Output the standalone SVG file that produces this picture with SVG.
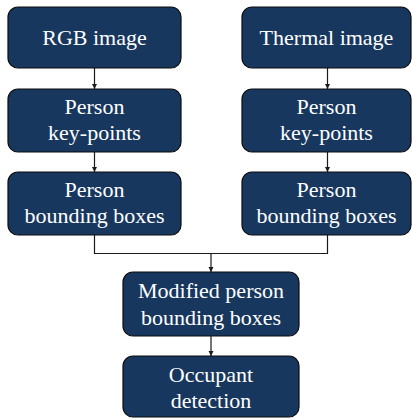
<svg xmlns="http://www.w3.org/2000/svg" width="412" height="420" viewBox="0 0 412 420">
<style>
.box{fill:#17375e;stroke:#0d0d0d;stroke-width:1.2}
.t{font-family:"Liberation Serif","Times New Roman",serif;font-size:22px;fill:#ffffff;text-anchor:middle}
.c{fill:none;stroke:#1a1a1a;stroke-width:1.2}
</style>
<defs>
<marker id="ah" markerWidth="6" markerHeight="6" refX="5" refY="3" orient="auto" markerUnits="userSpaceOnUse">
<path d="M0,0.5 L5,3 L0,5.5 Z" fill="#1a1a1a"/>
</marker>
</defs>
<rect width="412" height="420" fill="#ffffff"/>
<g id="connectors">
<line class="c" x1="94.5" y1="68" x2="94.5" y2="89" marker-end="url(#ah)"/>
<line class="c" x1="327.5" y1="68" x2="327.5" y2="89" marker-end="url(#ah)"/>
<line class="c" x1="94.5" y1="152" x2="94.5" y2="172" marker-end="url(#ah)"/>
<line class="c" x1="327.5" y1="152" x2="327.5" y2="172" marker-end="url(#ah)"/>
<polyline class="c" points="94.5,235 94.5,253.5 327.5,253.5 327.5,235"/>
<line class="c" x1="211" y1="253.5" x2="211" y2="272" marker-end="url(#ah)"/>
<line class="c" x1="211" y1="336" x2="211" y2="356" marker-end="url(#ah)"/>
</g>
<g id="rgb">
<rect class="box" x="8" y="7" width="173" height="61" rx="10"/>
<text class="t" x="94.5" y="45">RGB image</text>
</g>
<g id="thermal">
<rect class="box" x="242" y="7" width="169" height="61" rx="10"/>
<text class="t" x="326.5" y="45">Thermal image</text>
</g>
<g id="kp-left">
<rect class="box" x="8" y="89" width="173" height="63" rx="10"/>
<text class="t" x="94.5" y="114">Person</text>
<text class="t" x="94.5" y="140">key-points</text>
</g>
<g id="kp-right">
<rect class="box" x="242" y="89" width="169" height="63" rx="10"/>
<text class="t" x="326.5" y="114">Person</text>
<text class="t" x="326.5" y="140">key-points</text>
</g>
<g id="bb-left">
<rect class="box" x="8" y="172" width="173" height="63" rx="10"/>
<text class="t" x="94.5" y="197">Person</text>
<text class="t" x="94.5" y="223">bounding boxes</text>
</g>
<g id="bb-right">
<rect class="box" x="242" y="172" width="169" height="63" rx="10"/>
<text class="t" x="326.5" y="197">Person</text>
<text class="t" x="326.5" y="223">bounding boxes</text>
</g>
<g id="modified">
<rect class="box" x="123" y="272" width="176" height="64" rx="10"/>
<text class="t" x="211" y="298">Modified person</text>
<text class="t" x="211" y="325">bounding boxes</text>
</g>
<g id="occupant">
<rect class="box" x="123" y="356" width="176" height="61" rx="10"/>
<text class="t" x="211" y="382">Occupant</text>
<text class="t" x="211" y="408">detection</text>
</g>
</svg>
